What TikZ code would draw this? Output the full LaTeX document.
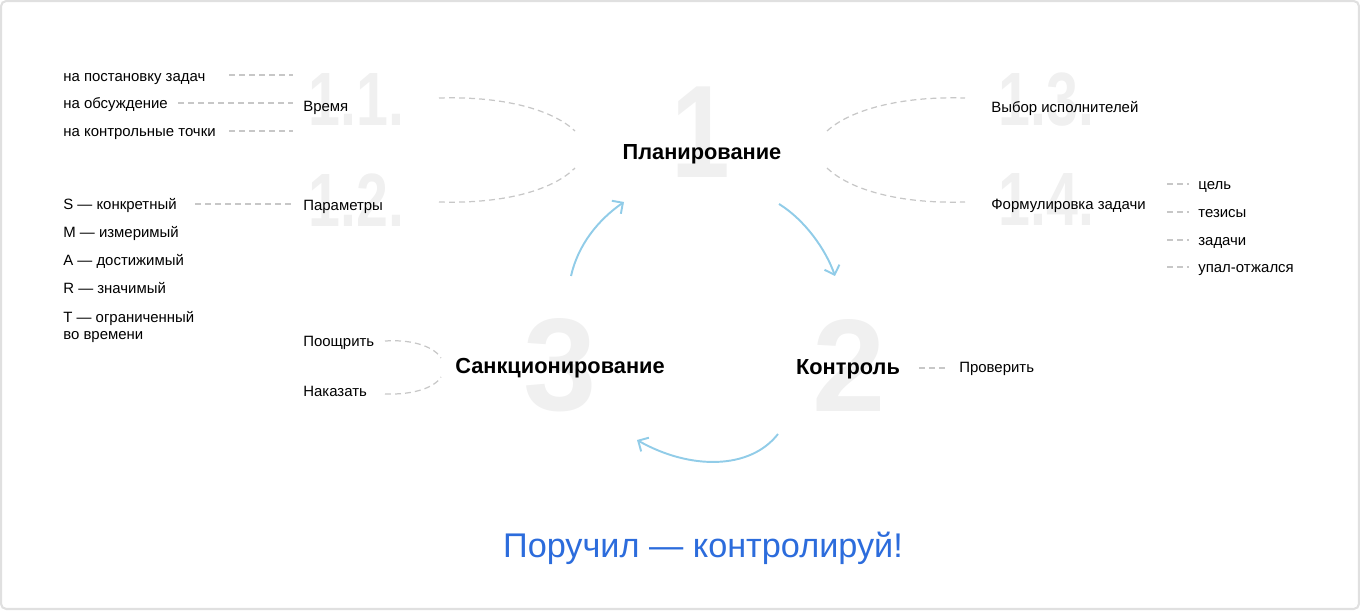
\documentclass[tikz,border=0pt]{standalone}
\usepackage{fontspec}
\setmainfont{Liberation Sans}
\usetikzlibrary{arrows.meta}
\definecolor{cycleblue}{RGB}{145,204,232}
\definecolor{titleblue}{RGB}{44,108,220}
\newcommand\narrownum[1]{\scalebox{0.76}[1]{#1}}
\begin{document}
\begin{tikzpicture}[x=0.02cm,y=-0.02cm,
lbl/.style={anchor=mid west,inner sep=0pt,font=\fontsize{8.5}{10}\selectfont},
stage/.style={anchor=mid,inner sep=0pt,font=\fontsize{12.4}{14}\selectfont\bfseries},
bignum/.style={inner sep=0pt,text=black!6,font=\fontsize{75}{75}\selectfont\bfseries},
subnum/.style={anchor=west,inner sep=0pt,text=black!6,font=\fontsize{43}{43}\selectfont\bfseries},
dashline/.style={draw=black!22,line width=0.7pt,dash pattern=on 3.4pt off 2.3pt},
cycle/.style={draw=cycleblue,line width=1.1pt,-{Straight Barb[length=4.5pt,width=9pt]}}
]
\useasboundingbox (0,0) rectangle (1360,611);
\draw[black!12,line width=1.2pt,rounded corners=3pt] (1,1) rectangle (1359,609);
% big numbers behind
\node[bignum] (n1) at (701,132) {\scalebox{0.8}[1]{1}};
\node[bignum] (n2) at (849,365) {2};
\node[bignum] (n3) at (560,365) {3};
\node[subnum] (n11) at (308,100) {\narrownum{1.1.}};
\node[subnum] (n12) at (308,200) {\narrownum{1.2.}};
\node[subnum] (n13) at (998,100) {\narrownum{1.3.}};
\node[subnum] (n14) at (998,200) {\narrownum{1.4.}};
% stages
\node[stage] (plan) at (702,155) {Планирование};
\node[stage] (ctrl) at (848,370) {Контроль};
\node[stage] (sanc) at (560,369) {Санкционирование};
% 1.1.
\node[lbl] (time) at (303,107) {Время};
\node[lbl] (t1) at (63,77) {на постановку задач};
\node[lbl] (t2) at (63,104) {на обсуждение};
\node[lbl] (t3) at (63,132) {на контрольные точки};
\coordinate (t1a) at (229,75); \coordinate (t1b) at (293,75);
\coordinate (t2a) at (178,103); \coordinate (t2b) at (293,103);
\coordinate (t3a) at (229,131); \coordinate (t3b) at (293,131);
\draw[dashline] (t1a) -- (t1b);
\draw[dashline] (t2a) -- (t2b);
\draw[dashline] (t3a) -- (t3b);
% 1.2.
\node[lbl] (par) at (303,206) {Параметры};
\node[lbl] (ps) at (63,205) {S — конкретный};
\node[lbl] (pm) at (63,233) {M — измеримый};
\node[lbl] (pa) at (63,261) {A — достижимый};
\node[lbl] (pr) at (63,289) {R — значимый};
\node[lbl] (pt) at (63,318) {T — ограниченный};
\node[lbl] (pt2) at (63,335) {во времени};
\coordinate (psa) at (195,204); \coordinate (psb) at (293,204);
\draw[dashline] (psa) -- (psb);
% brackets round planning
\coordinate (b11) at (439,98); \coordinate (b12) at (439,202);
\coordinate (b13) at (965,98); \coordinate (b14) at (965,202);
\coordinate (pl1) at (575,131); \coordinate (pl2) at (575,168);
\coordinate (pr1) at (827,131); \coordinate (pr2) at (827,168);
\draw[dashline] (b11) .. controls (510,96) and (555,112) .. (pl1);
\draw[dashline] (b12) .. controls (510,204) and (555,188) .. (pl2);
\draw[dashline] (pr1) .. controls (850,110) and (900,96) .. (b13);
\draw[dashline] (pr2) .. controls (850,190) and (900,204) .. (b14);
% 1.3. and 1.4.
\node[lbl] (who) at (991,108) {Выбор исполнителей};
\node[lbl] (task) at (991,205) {Формулировка задачи};
\foreach \y/\txt [count=\i] in {184/цель,212/тезисы,240/задачи,267/упал-отжался}{
  \node[lbl] (k\i) at (1198,\y+1) {\txt};
  \coordinate (ka\i) at (1167,\y); \coordinate (kb\i) at (1189,\y);
  \draw[dashline] (ka\i) -- (kb\i);
}
% control
\node[lbl] (chk) at (959,368) {Проверить};
\coordinate (ca) at (919,368); \coordinate (cb) at (946,368);
\draw[dashline] (ca) -- (cb);
% sanctions
\node[lbl] (rew) at (303,342) {Поощрить};
\node[lbl] (pun) at (303,392) {Наказать};
\coordinate (ra) at (385,341); \coordinate (rb) at (441,358);
\coordinate (ua) at (385,394); \coordinate (ub) at (441,377);
\draw[dashline] (ra) .. controls (415,339) and (435,348) .. (rb);
\draw[dashline] (ua) .. controls (415,395) and (435,387) .. (ub);
% cycle
\coordinate (c1a) at (571,276); \coordinate (c1b) at (624,202);
\coordinate (c2a) at (779,204); \coordinate (c2b) at (835,276);
\coordinate (c3a) at (778,434); \coordinate (c3b) at (637,440);
\draw[cycle] (c1a) .. controls (578,245) and (598,220) .. (c1b);
\draw[cycle] (c2a) .. controls (805,220) and (826,250) .. (c2b);
\draw[cycle] (c3a) .. controls (750,470) and (690,470) .. (c3b);
\node[anchor=mid,inner sep=0pt,text=titleblue,font=\fontsize{19.5}{22}\selectfont] (motto) at (703,553) {Поручил — контролируй!};
\end{tikzpicture}
\end{document}
